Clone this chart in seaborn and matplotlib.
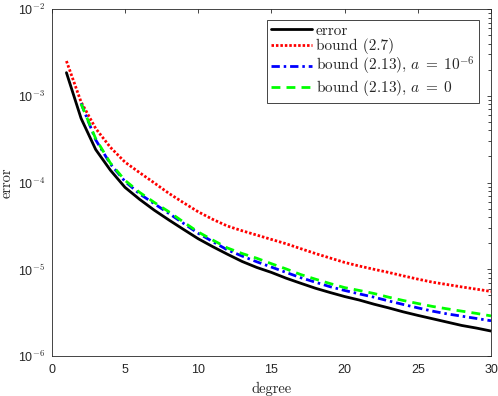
import matplotlib
matplotlib.use('Agg')
import matplotlib.pyplot as plt
import seaborn as sns
from matplotlib.ticker import FixedLocator, NullFormatter

# valores
degree = list(range(1, 31))

error = [1.85e-3, 5.5e-4, 2.4e-4, 1.39e-4, 8.8e-5, 6.4e-5, 4.8e-5, 3.7e-5, 2.88e-5, 2.25e-5,
         1.82e-5, 1.49e-5, 1.23e-5, 1.05e-5, 9.2e-6, 7.9e-6, 6.9e-6, 6.05e-6, 5.4e-6, 4.85e-6,
         4.42e-6, 3.96e-6, 3.59e-6, 3.23e-6, 2.94e-6, 2.69e-6, 2.46e-6, 2.25e-6, 2.1e-6, 1.94e-6]

bound_27 = [2.52e-3, 8.5e-4, 4.2e-4, 2.55e-4, 1.72e-4, 1.3e-4, 9.9e-5, 7.5e-5, 5.85e-5, 4.6e-5,
            3.76e-5, 3.15e-5, 2.78e-5, 2.48e-5, 2.21e-5, 1.97e-5, 1.73e-5, 1.52e-5, 1.35e-5, 1.2e-5,
            1.09e-5, 1.0e-5, 9.2e-6, 8.4e-6, 7.7e-6, 7.1e-6, 6.67e-6, 6.26e-6, 5.9e-6, 5.55e-6]

# bound (2.13) empieza en grado 2
degree_213 = degree[1:]
bound_213_a6 = [8.2e-4, 3.1e-4, 1.64e-4, 1.03e-4, 7.4e-5, 5.7e-5, 4.4e-5, 3.38e-5, 2.6e-5,
                2.08e-5, 1.67e-5, 1.42e-5, 1.22e-5, 1.06e-5, 9.2e-6, 8.0e-6, 7.1e-6, 6.3e-6, 5.7e-6,
                5.2e-6, 4.77e-6, 4.32e-6, 3.93e-6, 3.59e-6, 3.29e-6, 3.06e-6, 2.88e-6, 2.71e-6, 2.55e-6]
bound_213_a0 = [8.1e-4, 3.2e-4, 1.68e-4, 1.06e-4, 7.7e-5, 5.9e-5, 4.6e-5, 3.5e-5, 2.69e-5,
                2.17e-5, 1.76e-5, 1.52e-5, 1.34e-5, 1.16e-5, 1.01e-5, 8.7e-6, 7.7e-6, 6.85e-6, 6.15e-6,
                5.7e-6, 5.26e-6, 4.77e-6, 4.37e-6, 4.03e-6, 3.73e-6, 3.5e-6, 3.29e-6, 3.1e-6, 2.9e-6]

yticks = [1e-6, 1e-5, 1e-4, 1e-3, 1e-2]
ytick_labels = ['10$^{\\mathsf{-6}}$', '10$^{\\mathsf{-5}}$', '10$^{\\mathsf{-4}}$',
                '10$^{\\mathsf{-3}}$', '10$^{\\mathsf{-2}}$']
xticks = [0, 5, 10, 15, 20, 25, 30]

sns.set_style('white')
plt.rcParams['mathtext.fontset'] = 'cm'
plt.rcParams['font.family'] = ['Liberation Sans', 'DejaVu Sans']

fig = plt.figure(figsize=(4.98, 3.96), dpi=100)
ax = fig.add_axes([0.104, 0.101, 0.882, 0.876])

gris = '#262626'

sns.lineplot(x=degree, y=error, ax=ax, color='black', lw=2.0, linestyle='-', label='error')
sns.lineplot(x=degree, y=bound_27, ax=ax, color='#ff0000', lw=2.0,
             linestyle=(0, (0.9, 0.7)), label='bound (2.7)')
sns.lineplot(x=degree_213, y=bound_213_a6, ax=ax, color='#0000ff', lw=2.0,
             linestyle=(0, (3.0, 1.4, 0.9, 1.4)), label='bound (2.13), $a\\;=\\;10^{-6}$')
sns.lineplot(x=degree_213, y=bound_213_a0, ax=ax, color='#00ff00', lw=2.0,
             linestyle=(0, (3.2, 2.2)), label='bound (2.13), $a\\;=\\;0$')

ax.set_yscale('log')
ax.set_xlim(0, 30)
ax.set_ylim(1e-6, 1e-2)
ax.set_xticks(xticks)
ax.set_xticklabels([str(t) for t in xticks])
ax.yaxis.set_major_locator(FixedLocator(yticks))
ax.set_yticklabels(ytick_labels)
minors = [m * 10.0 ** e for e in range(-6, -2) for m in range(2, 10)]
ax.yaxis.set_minor_locator(FixedLocator(minors))
ax.yaxis.set_minor_formatter(NullFormatter())

ax.tick_params(axis='both', which='both', direction='in', top=True, right=True,
               colors=gris, labelsize=9, width=0.6)
ax.tick_params(axis='both', which='major', length=3.2)
ax.tick_params(axis='x', which='major', pad=6)
ax.tick_params(axis='y', which='major', pad=4.5)
ax.tick_params(axis='y', which='minor', length=2.0)
for s in ax.spines.values():
    s.set_color(gris)
    s.set_linewidth(0.6)

ax.set_xlabel('degree', family='cmr10', fontsize=10.5, color=gris, labelpad=4)
ax.set_ylabel('error', family='cmr10', fontsize=10.5, color=gris, labelpad=3)

leg = ax.legend(loc='upper right', bbox_to_anchor=(0.973, 0.97), prop={'family': 'cmr10', 'size': 11},
                handlelength=2.7, handletextpad=0.25, labelspacing=0.06, borderpad=0.28,
                borderaxespad=0.0, fancybox=False, framealpha=1.0, edgecolor=gris)
leg.get_frame().set_linewidth(0.6)

fig.savefig('out.png', dpi=100)
